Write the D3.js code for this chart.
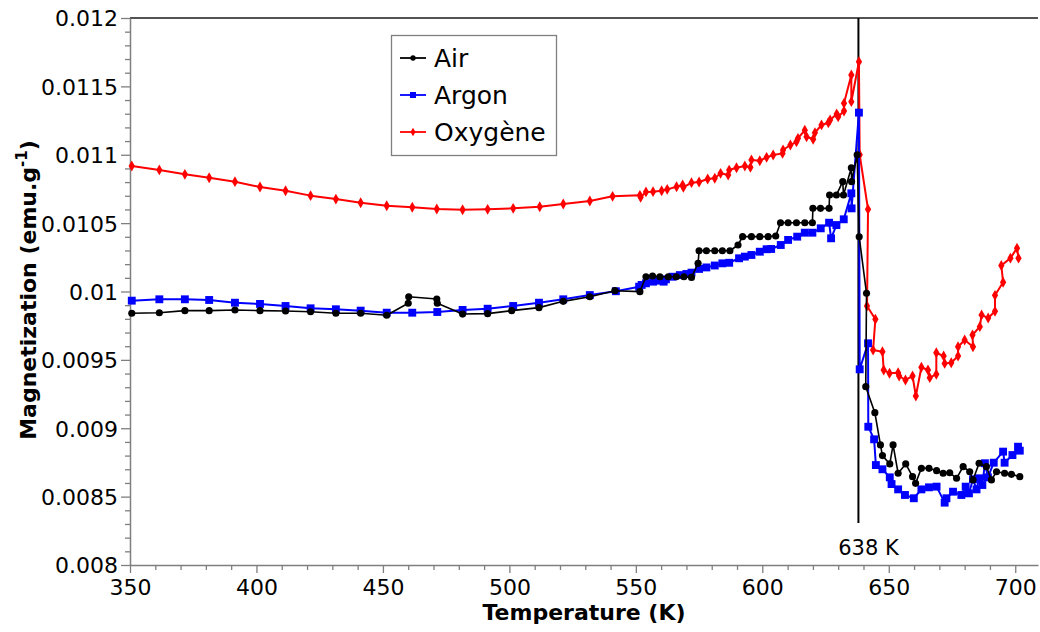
<!DOCTYPE html>
<html>
<head>
<meta charset="utf-8">
<script src="https://cdn.jsdelivr.net/npm/d3@7"></script>
<style>
  html, body { margin: 0; padding: 0; background: #fff; }
  svg { display: block; font-family: "DejaVu Sans", Verdana, sans-serif; }
</style>
</head>
<body>
<svg id="chart" width="1040" height="632"></svg>
<script>
// Magnetization vs temperature under three atmospheres
const airT = [350.7, 361.6, 371.7, 381.3, 391.5, 401.4, 411.5, 421.4, 431.4, 441.2, 451.5, 460.0, 460.2, 471.3, 471.5, 481.5, 491.4, 500.9, 511.7, 521.3,
  531.8, 541.7, 551.6, 554.0, 556.6, 559.5, 562.8, 566.0, 569.0, 572.0, 574.6, 575.0, 577.9, 581.2, 584.2, 587.2, 590.4, 592.2, 595.7, 599.0,
  602.3, 605.3, 607.2, 610.2, 613.5, 616.8, 619.8, 620.0, 623.0, 626.4, 626.6, 629.3, 631.8, 632.1, 635.2, 635.3, 637.5, 638.3, 641.2, 640.9,
  644.5, 646.7, 647.5, 650.4, 651.7, 653.7, 656.7, 659.4, 660.6, 662.9, 665.9, 668.9, 671.5, 674.1, 676.8, 679.4, 682.0, 683.3, 685.7, 688.6,
  690.6, 692.6, 695.8, 698.5, 701.8];
const airM = [0.009841, 0.009845, 0.009860, 0.009860, 0.009865, 0.009860, 0.009857, 0.009852, 0.009841, 0.009841, 0.009826, 0.009914, 0.009962, 0.009945, 0.009914, 0.009835, 0.009838, 0.009860, 0.009882, 0.009928,
  0.009962, 0.010006, 0.009999, 0.010108, 0.010113, 0.010108, 0.010108, 0.010108, 0.010108, 0.010103, 0.010206, 0.010298, 0.010298, 0.010298, 0.010298, 0.010298, 0.010340, 0.010401, 0.010401, 0.010401,
  0.010401, 0.010406, 0.010503, 0.010503, 0.010503, 0.010503, 0.010503, 0.010608, 0.010608, 0.010608, 0.010706, 0.010706, 0.010803, 0.010706, 0.010905, 0.010803, 0.011000, 0.010400, 0.009987, 0.009304,
  0.009114, 0.008878, 0.008800, 0.008739, 0.008878, 0.008671, 0.008739, 0.008646, 0.008597, 0.008707, 0.008707, 0.008690, 0.008671, 0.008675, 0.008634, 0.008719, 0.008682, 0.008622, 0.008744, 0.008719,
  0.008622, 0.008682, 0.008671, 0.008663, 0.008646];

const argonT = [350.7, 361.6, 371.7, 381.3, 391.5, 401.4, 411.5, 421.4, 431.4, 441.2, 451.5, 461.6, 471.5, 481.5, 491.4, 501.5, 511.7, 521.3, 531.8, 542.1,
  551.3, 552.3, 554.0, 556.8, 559.2, 561.0, 561.9, 564.5, 567.4, 570.0, 572.0, 575.0, 577.9, 581.2, 584.2, 586.9, 590.8, 593.1, 595.7, 599.0,
  601.7, 603.5, 607.3, 610.2, 613.8, 616.8, 619.8, 623.1, 626.4, 627.2, 629.3, 632.2, 635.2, 635.3, 638.2, 638.5, 641.8, 641.9, 644.2, 644.9,
  647.5, 650.4, 651.1, 653.7, 656.4, 659.9, 662.9, 665.9, 668.9, 672.1, 672.8, 675.4, 678.7, 680.4, 681.7, 683.3, 684.7, 685.7, 687.0, 688.0,
  689.2, 691.5, 695.2, 695.8, 698.9, 701.1, 701.8];
const argonM = [0.009933, 0.009943, 0.009943, 0.009938, 0.009918, 0.009909, 0.009894, 0.009877, 0.009870, 0.009860, 0.009845, 0.009845, 0.009850, 0.009865, 0.009874, 0.009894, 0.009918, 0.009943, 0.009974, 0.010002,
  0.010035, 0.010048, 0.010060, 0.010072, 0.010079, 0.010072, 0.010089, 0.010108, 0.010120, 0.010128, 0.010138, 0.010165, 0.010176, 0.010190, 0.010206, 0.010210, 0.010243, 0.010255, 0.010267, 0.010291,
  0.010309, 0.010311, 0.010340, 0.010377, 0.010401, 0.010430, 0.010430, 0.010462, 0.010503, 0.010389, 0.010486, 0.010528, 0.010718, 0.010608, 0.011308, 0.009431, 0.009621, 0.009011, 0.008919, 0.008731,
  0.008700, 0.008641, 0.008592, 0.008553, 0.008512, 0.008488, 0.008553, 0.008568, 0.008573, 0.008456, 0.008488, 0.008536, 0.008512, 0.008573, 0.008524, 0.008627, 0.008553, 0.008634, 0.008585, 0.008744,
  0.008641, 0.008748, 0.008829, 0.008748, 0.008804, 0.008865, 0.008836];

const oxyT = [350.7, 361.6, 371.7, 381.3, 391.5, 401.4, 411.5, 421.4, 431.4, 441.2, 451.5, 461.6, 471.3, 481.5, 491.4, 501.5, 512.0, 521.3, 531.8, 540.8,
  551.6, 551.9, 554.0, 556.8, 560.2, 562.4, 566.1, 568.5, 568.8, 572.0, 575.0, 578.4, 581.2, 583.5, 586.5, 586.9, 589.8, 593.1, 595.3, 595.7,
  599.0, 601.7, 604.3, 608.0, 608.2, 611.1, 613.5, 614.1, 616.8, 617.5, 620.1, 620.8, 623.4, 626.1, 626.8, 629.4, 630.0, 632.3, 632.3, 635.2,
  635.2, 638.2, 638.5, 641.8, 641.4, 644.7, 643.8, 647.5, 648.0, 650.3, 653.7, 654.1, 656.6, 659.4, 660.7, 662.9, 665.5, 666.2, 668.8, 668.8,
  671.7, 672.1, 674.7, 677.4, 677.4, 680.0, 683.3, 683.1, 686.0, 686.7, 689.3, 692.0, 692.0, 695.2, 694.5, 698.1, 700.7, 701.3];
const oxyM = [0.010918, 0.010889, 0.010857, 0.010832, 0.010803, 0.010764, 0.010737, 0.010701, 0.010676, 0.010649, 0.010627, 0.010616, 0.010603, 0.010598, 0.010601, 0.010608, 0.010620, 0.010640, 0.010662, 0.010696,
  0.010703, 0.010689, 0.010728, 0.010730, 0.010737, 0.010747, 0.010766, 0.010779, 0.010762, 0.010796, 0.010801, 0.010823, 0.010828, 0.010864, 0.010852, 0.010888, 0.010905, 0.010918, 0.010908, 0.010962,
  0.010956, 0.010981, 0.010998, 0.011010, 0.011035, 0.011071, 0.011095, 0.011120, 0.011180, 0.011132, 0.011113, 0.011161, 0.011218, 0.011234, 0.011254, 0.011298, 0.011278, 0.011320, 0.011376, 0.011583,
  0.011388, 0.011680, 0.011000, 0.010601, 0.009894, 0.009797, 0.009572, 0.009560, 0.009426, 0.009402, 0.009406, 0.009382, 0.009353, 0.009382, 0.009236, 0.009446, 0.009426, 0.009370, 0.009394, 0.009552,
  0.009528, 0.009474, 0.009479, 0.009528, 0.009596, 0.009645, 0.009596, 0.009682, 0.009743, 0.009829, 0.009806, 0.009855, 0.009972, 0.010068, 0.010190, 0.010244, 0.010317, 0.010244];

const seriesNames = ["Air", "Argon", "Oxygène"];
const seriesColors = ["#000000", "#0000ff", "#ff0000"];

const xTickValues = [350, 400, 450, 500, 550, 600, 650, 700];
const xTickLabels = ["350", "400", "450", "500", "550", "600", "650", "700"];
const yTickValues = [0.008, 0.0085, 0.009, 0.0095, 0.010, 0.0105, 0.011, 0.0115, 0.012];
const yTickLabels = ["0.008", "0.0085", "0.009", "0.0095", "0.01", "0.0105", "0.011", "0.0115", "0.012"];
const curieT = 638;
const curieLabel = "638 K";

const svg = d3.select("#chart");
const plotLeft = 130, plotRight = 1038, plotTop = 18, plotBottom = 565;

const x = d3.scaleLinear().domain([350, 709]).range([plotLeft, plotRight]);
const y = d3.scaleLinear().domain([0.008, 0.012]).range([plotBottom, plotTop]);

const axisColor = "#7f7f7f";

// frame top edge
svg.append("line")
  .attr("x1", plotLeft).attr("x2", plotRight).attr("y1", plotTop).attr("y2", plotTop)
  .attr("stroke", "#1a1a1a").attr("stroke-width", 1.5);

// minor ticks
const xMinor = d3.range(350, 709, 10).filter(v => v % 50 !== 0);
const yMinor = d3.range(80, 121).map(v => v / 10000).filter((v, i) => (80 + i) % 5 !== 0);

const gx = svg.append("g").attr("transform", `translate(0,${plotBottom})`);
gx.call(d3.axisBottom(x).tickValues(xMinor).tickSize(5).tickFormat(""));
gx.call(g => g.select(".domain").remove());
const gx2 = svg.append("g").attr("transform", `translate(0,${plotBottom})`);
gx2.call(d3.axisBottom(x).tickValues(xTickValues).tickSize(8).tickSizeOuter(0)
  .tickFormat((d, i) => xTickLabels[i]));
[gx, gx2].forEach(g => {
  g.selectAll("line").attr("stroke", axisColor).attr("stroke-width", 1.3);
  g.selectAll("path").attr("stroke", axisColor).attr("stroke-width", 1.5);
  g.selectAll("text").attr("font-size", 22).attr("fill", "#000")
    .attr("font-family", "DejaVu Sans, sans-serif").attr("dy", "0.98em").attr("y", 8);
});

const gy = svg.append("g").attr("transform", `translate(${plotLeft},0)`);
gy.call(d3.axisLeft(y).tickValues(yMinor).tickSize(5).tickFormat(""));
gy.call(g => g.select(".domain").remove());
const gy2 = svg.append("g").attr("transform", `translate(${plotLeft},0)`);
gy2.call(d3.axisLeft(y).tickValues(yTickValues).tickSize(9).tickSizeOuter(0)
  .tickFormat((d, i) => yTickLabels[i]));
[gy, gy2].forEach(g => {
  g.selectAll("line").attr("stroke", axisColor).attr("stroke-width", 1.3);
  g.selectAll("path").attr("stroke", axisColor).attr("stroke-width", 1.5);
  g.selectAll("text").attr("font-size", 22).attr("fill", "#000")
    .attr("font-family", "DejaVu Sans, sans-serif").attr("x", -12).attr("dy", "0.36em");
});

// axis titles
svg.append("text")
  .attr("x", 584).attr("y", 620)
  .attr("text-anchor", "middle")
  .attr("font-size", 22).attr("font-weight", "bold")
  .text("Temperature (K)");

const yTitle = svg.append("text")
  .attr("transform", "translate(36,290) rotate(-90)")
  .attr("text-anchor", "middle")
  .attr("font-size", 22).attr("font-weight", "bold");
yTitle.append("tspan").text("Magnetization (emu.g");
yTitle.append("tspan").text("-1").attr("font-size", 15).attr("dy", -9);
yTitle.append("tspan").text(")").attr("dy", 9);

// Curie temperature marker
svg.append("line")
  .attr("x1", x(curieT)).attr("x2", x(curieT))
  .attr("y1", plotTop).attr("y2", 523)
  .attr("stroke", "#000").attr("stroke-width", 2);
svg.append("text")
  .attr("x", x(curieT) + 10).attr("y", 555)
  .attr("text-anchor", "middle")
  .attr("font-size", 21)
  .text(curieLabel);

// series
const series = [
  { name: seriesNames[0], color: seriesColors[0], T: airT, M: airM, shape: "circle", width: 1.6 },
  { name: seriesNames[1], color: seriesColors[1], T: argonT, M: argonM, shape: "square", width: 2 },
  { name: seriesNames[2], color: seriesColors[2], T: oxyT, M: oxyM, shape: "diamond", width: 2 }
];

const line = d3.line().x(d => x(d[0])).y(d => y(d[1]));
const symbolFor = s => s === "circle" ? d3.symbol(d3.symbolCircle, 40)
  : s === "square" ? d3.symbol(d3.symbolSquare, 62)
  : d3.symbol(d3.symbolDiamond, 34);

// draw order: oxygen, argon, air on top
[series[2], series[1], series[0]].forEach(s => {
  const pts = s.T.map((t, i) => [t, s.M[i]]);
  const g = svg.append("g");
  g.append("path").datum(pts)
    .attr("d", line)
    .attr("fill", "none")
    .attr("stroke", s.color)
    .attr("stroke-width", s.width)
    .attr("stroke-linejoin", "round");
  g.selectAll("path.pt").data(pts).join("path")
    .attr("class", "pt")
    .attr("transform", d => `translate(${x(d[0])},${y(d[1])})`)
    .attr("d", symbolFor(s.shape))
    .attr("fill", s.color);
});

// legend
const lg = svg.append("g");
lg.append("rect")
  .attr("x", 391.5).attr("y", 35.5).attr("width", 165).attr("height", 120)
  .attr("fill", "#fff").attr("stroke", "#7f7f7f").attr("stroke-width", 1.3);
series.forEach((s, i) => {
  const ly = 58 + i * 37;
  lg.append("line").attr("x1", 400).attr("x2", 426).attr("y1", ly).attr("y2", ly)
    .attr("stroke", s.color).attr("stroke-width", 1.8);
  lg.append("path").attr("transform", `translate(413,${ly})`)
    .attr("d", s.shape === "circle" ? d3.symbol(d3.symbolCircle, 22)
      : s.shape === "square" ? d3.symbol(d3.symbolSquare, 36)
      : d3.symbol(d3.symbolDiamond, 22))
    .attr("fill", s.color);
  lg.append("text").attr("x", 434).attr("y", ly).attr("dy", "0.36em")
    .attr("font-size", 25).attr("fill", "#000")
    .text(s.name);
});
</script>
</body>
</html>
